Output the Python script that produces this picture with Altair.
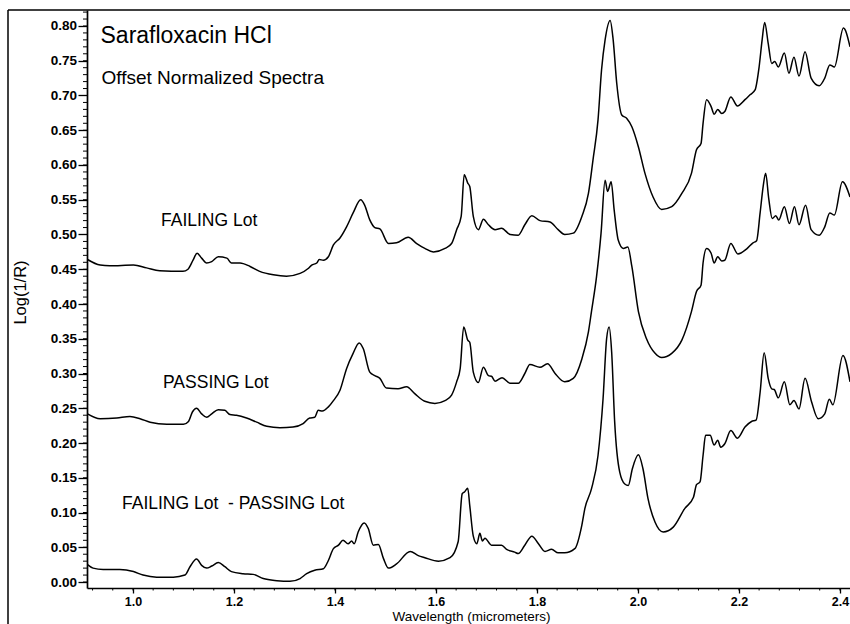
import altair as alt
import pandas as pd

# ---- data (wavelength in micrometers, Log(1/R)) ----
fail_wl = [0.910,0.935,0.954,1.001,1.027,1.053,1.099,1.109,1.119,1.127,
           1.136,1.146,1.156,1.169,1.186,1.195,1.212,1.232,1.251,1.278,
           1.304,1.331,1.347,1.354,1.364,1.369,1.377,1.387,1.397,1.410,
           1.423,1.436,1.451,1.459,1.469,1.479,1.489,1.506,1.522,1.545,
           1.562,1.578,1.595,1.618,1.631,1.641,1.650,1.656,1.663,1.667,
           1.674,1.684,1.694,1.704,1.717,1.730,1.747,1.763,1.776,1.790,
           1.806,1.826,1.842,1.855,1.872,1.889,1.902,1.911,1.921,1.928,
           1.935,1.945,1.951,1.958,1.968,1.978,1.988,2.001,2.014,2.030,
           2.047,2.067,2.087,2.106,2.116,2.125,2.129,2.136,2.145,2.151,
           2.158,2.166,2.172,2.184,2.197,2.212,2.222,2.232,2.240,2.246,
           2.251,2.258,2.265,2.271,2.278,2.290,2.299,2.309,2.319,2.331,
           2.343,2.359,2.370,2.380,2.389,2.407,2.420]
fail_val = [0.464,0.456,0.455,0.456,0.452,0.448,0.447,0.450,0.463,0.473,
            0.466,0.459,0.461,0.468,0.466,0.459,0.459,0.454,0.447,0.442,
            0.440,0.444,0.451,0.456,0.459,0.464,0.463,0.468,0.485,0.495,
            0.511,0.531,0.550,0.542,0.521,0.510,0.508,0.487,0.488,0.496,
            0.487,0.480,0.475,0.480,0.487,0.507,0.526,0.586,0.574,0.569,
            0.526,0.507,0.522,0.514,0.507,0.509,0.500,0.499,0.514,0.527,
            0.520,0.518,0.507,0.500,0.502,0.526,0.559,0.607,0.665,0.737,
            0.780,0.808,0.780,0.718,0.672,0.667,0.655,0.626,0.588,0.554,
            0.536,0.540,0.559,0.588,0.622,0.631,0.660,0.694,0.684,0.673,
            0.680,0.674,0.677,0.698,0.685,0.694,0.701,0.708,0.741,0.780,
            0.805,0.775,0.746,0.749,0.741,0.761,0.732,0.755,0.728,0.763,
            0.725,0.714,0.725,0.744,0.741,0.797,0.770]

pass_wl = [0.910,0.935,0.968,0.994,1.014,1.034,1.067,1.100,1.110,1.118,
           1.126,1.136,1.146,1.156,1.169,1.182,1.192,1.205,1.225,1.245,
           1.265,1.291,1.317,1.337,1.350,1.360,1.367,1.375,1.387,1.397,
           1.410,1.423,1.436,1.448,1.456,1.469,1.479,1.489,1.502,1.525,
           1.542,1.558,1.578,1.598,1.618,1.631,1.641,1.648,1.655,1.663,
           1.667,1.674,1.684,1.694,1.704,1.710,1.717,1.731,1.747,1.763,
           1.776,1.786,1.806,1.821,1.836,1.855,1.872,1.889,1.902,1.908,
           1.918,1.927,1.935,1.940,1.947,1.953,1.961,1.971,1.980,1.988,
           2.001,2.017,2.034,2.047,2.067,2.087,2.106,2.116,2.125,2.129,
           2.136,2.145,2.151,2.158,2.166,2.172,2.184,2.198,2.215,2.228,
           2.235,2.242,2.248,2.253,2.259,2.266,2.273,2.279,2.290,2.300,
           2.310,2.319,2.332,2.343,2.359,2.370,2.380,2.389,2.405,2.420]
pass_val = [0.242,0.235,0.236,0.238,0.235,0.230,0.227,0.227,0.231,0.245,
            0.250,0.242,0.237,0.242,0.248,0.247,0.241,0.240,0.236,0.230,
            0.224,0.222,0.223,0.228,0.236,0.237,0.247,0.246,0.252,0.261,
            0.276,0.307,0.329,0.344,0.336,0.302,0.297,0.293,0.279,0.278,
            0.281,0.271,0.260,0.257,0.261,0.269,0.288,0.307,0.367,0.348,
            0.345,0.302,0.287,0.309,0.297,0.296,0.289,0.294,0.286,0.286,
            0.300,0.313,0.309,0.314,0.300,0.288,0.293,0.321,0.360,0.389,
            0.439,0.502,0.578,0.562,0.576,0.535,0.492,0.480,0.482,0.454,
            0.389,0.350,0.329,0.323,0.329,0.348,0.389,0.418,0.427,0.459,
            0.480,0.473,0.459,0.468,0.462,0.463,0.487,0.472,0.479,0.488,
            0.491,0.531,0.569,0.588,0.552,0.523,0.527,0.521,0.540,0.516,
            0.540,0.514,0.542,0.507,0.499,0.511,0.531,0.528,0.576,0.554]

diff_wl = [0.910,0.921,0.941,0.974,1.001,1.020,1.047,1.080,1.103,1.113,
           1.126,1.136,1.146,1.156,1.169,1.182,1.195,1.218,1.238,1.258,
           1.285,1.311,1.331,1.344,1.360,1.377,1.387,1.397,1.407,1.416,
           1.426,1.433,1.438,1.446,1.458,1.466,1.476,1.486,1.496,1.506,
           1.522,1.549,1.565,1.578,1.605,1.628,1.644,1.652,1.657,1.663,
           1.667,1.674,1.681,1.687,1.692,1.697,1.710,1.730,1.740,1.756,
           1.763,1.776,1.790,1.803,1.816,1.829,1.842,1.855,1.875,1.889,
           1.895,1.908,1.921,1.931,1.938,1.943,1.948,1.954,1.964,1.974,
           1.981,1.989,2.001,2.010,2.020,2.034,2.050,2.070,2.093,2.110,
           2.116,2.123,2.129,2.134,2.143,2.151,2.158,2.164,2.172,2.184,
           2.197,2.212,2.225,2.234,2.242,2.250,2.258,2.265,2.270,2.278,
           2.290,2.301,2.309,2.319,2.331,2.344,2.357,2.370,2.379,2.386,
           2.406,2.420]
diff_val = [0.025,0.020,0.018,0.018,0.015,0.010,0.007,0.007,0.010,0.022,
            0.033,0.024,0.020,0.023,0.028,0.022,0.015,0.012,0.011,0.005,
            0.002,0.001,0.005,0.012,0.017,0.019,0.031,0.048,0.053,0.060,
            0.055,0.059,0.055,0.072,0.085,0.077,0.053,0.054,0.034,0.020,
            0.026,0.044,0.038,0.035,0.030,0.035,0.058,0.127,0.130,0.135,
            0.110,0.066,0.055,0.070,0.059,0.063,0.053,0.053,0.047,0.043,
            0.041,0.053,0.066,0.055,0.044,0.047,0.042,0.042,0.048,0.082,
            0.106,0.134,0.182,0.264,0.350,0.367,0.331,0.230,0.158,0.141,
            0.139,0.163,0.183,0.163,0.120,0.086,0.072,0.079,0.106,0.122,
            0.140,0.144,0.182,0.211,0.211,0.197,0.204,0.194,0.199,0.218,
            0.207,0.223,0.231,0.233,0.273,0.330,0.293,0.278,0.277,0.265,
            0.288,0.255,0.261,0.249,0.293,0.259,0.235,0.242,0.263,0.255,
            0.326,0.288]

x_ticks = [1.0, 1.2, 1.4, 1.6, 1.8, 2.0, 2.2, 2.4]
y_ticks = [0.00, 0.05, 0.10, 0.15, 0.20, 0.25, 0.30, 0.35, 0.40,
           0.45, 0.50, 0.55, 0.60, 0.65, 0.70, 0.75, 0.80]
x_minor = [round(0.92 + 0.04 * i, 2) for i in range(38)]
y_minor = [round(0.01 * i, 2) for i in range(83)]

title_text = "Sarafloxacin HCl"
subtitle_text = "Offset Normalized Spectra"
label_fail = "FAILING Lot"
label_pass = "PASSING Lot"
label_diff = "FAILING Lot \u00a0- PASSING Lot"

# ---- build tables ----
rows = []
for name, wl, val in [("FAILING Lot", fail_wl, fail_val),
                      ("PASSING Lot", pass_wl, pass_val),
                      ("FAILING - PASSING", diff_wl, diff_val)]:
    for a, b in zip(wl, val):
        rows.append({"series": name, "wl": a, "val": b})
spectra = pd.DataFrame(rows)

FONT = "Liberation Sans"
W, H = 763, 578
xs = alt.Scale(domain=[0.909, 2.42], nice=False, zero=False)
ys = alt.Scale(domain=[-0.0086, 0.823], nice=False, zero=False)

x_axis = alt.Axis(
    values=x_ticks, format=".1f", grid=False, tickSize=5, tickWidth=1.3,
    tickColor="black", domainColor="black", domainWidth=1.7,
    labelFont=FONT, labelFontSize=12.5, labelFontWeight="bold",
    labelColor="black", labelPadding=2.5, labelFlush=False,
    title="Wavelength (micrometers)", titleFont=FONT, titleFontSize=13.5,
    titleFontWeight="normal", titleColor="black",
    titleBaseline="alphabetic", titleY=32, titleX=384)
y_axis = alt.Axis(
    values=y_ticks, format=".2f", grid=False, tickSize=9, tickWidth=1.3,
    tickColor="black", domainColor="black", domainWidth=1.7,
    labelFont=FONT, labelFontSize=13.5, labelFontWeight="bold",
    labelColor="black", labelPadding=1.5, labelFlush=False,
    title="Log(1/R)", titleFont=FONT, titleFontSize=16.5,
    titleFontWeight="normal", titleColor="black", titleAngle=270,
    titleBaseline="alphabetic", titleX=-62, titleY=282)

lines = alt.Chart(spectra).mark_line(
    color="black", strokeWidth=1.5, interpolate="monotone", clip=True
).encode(
    x=alt.X("wl:Q", scale=xs, axis=x_axis, title="Wavelength (micrometers)"),
    y=alt.Y("val:Q", scale=ys, axis=y_axis, title="Log(1/R)"),
    detail="series:N",
)

yminor = alt.Chart(pd.DataFrame({"val": y_minor})).mark_rule(
    color="black", strokeWidth=1
).encode(
    y=alt.Y("val:Q", scale=ys, axis=y_axis, title="Log(1/R)"),
    x=alt.value(-4), x2=alt.value(0),
)

xminor = alt.Chart(pd.DataFrame({"wl": x_minor})).mark_rule(
    color="black", strokeWidth=1
).encode(
    x=alt.X("wl:Q", scale=xs, axis=x_axis, title="Wavelength (micrometers)"),
    y=alt.value(H), y2=alt.value(H + 2.5),
)

one = alt.Data(values=[{}])
frame_left = alt.Chart(one).mark_rule(color="black", strokeWidth=1.5).encode(
    x=alt.value(-79), y=alt.value(0), y2=alt.value(H + 40))
frame_top = alt.Chart(one).mark_rule(color="black", strokeWidth=1.5).encode(
    x=alt.value(-79), x2=alt.value(W + 5), y=alt.value(0))


def label(text, px, py, size):
    return alt.Chart(one).mark_text(
        text=text, font=FONT, fontSize=size, color="black",
        align="left", baseline="alphabetic"
    ).encode(x=alt.value(px), y=alt.value(py))


texts = [
    label(title_text, 13.5, 33.3, 23),
    label(subtitle_text, 14.5, 74.3, 19),
    label(label_fail, 74, 216, 17.5),
    label(label_pass, 76, 378, 17.5),
    label(label_diff, 35, 498.5, 17.5),
]

chart = alt.layer(
    lines, yminor, xminor, frame_left, frame_top, *texts
).properties(
    width=W, height=H,
    padding={"left": 87, "top": 10, "right": 0, "bottom": 36},
    autosize=alt.AutoSizeParams(type="none"),
    background="white",
).configure_view(stroke=None)

chart.save("out.html", embed_options={"renderer": "svg", "actions": False})
